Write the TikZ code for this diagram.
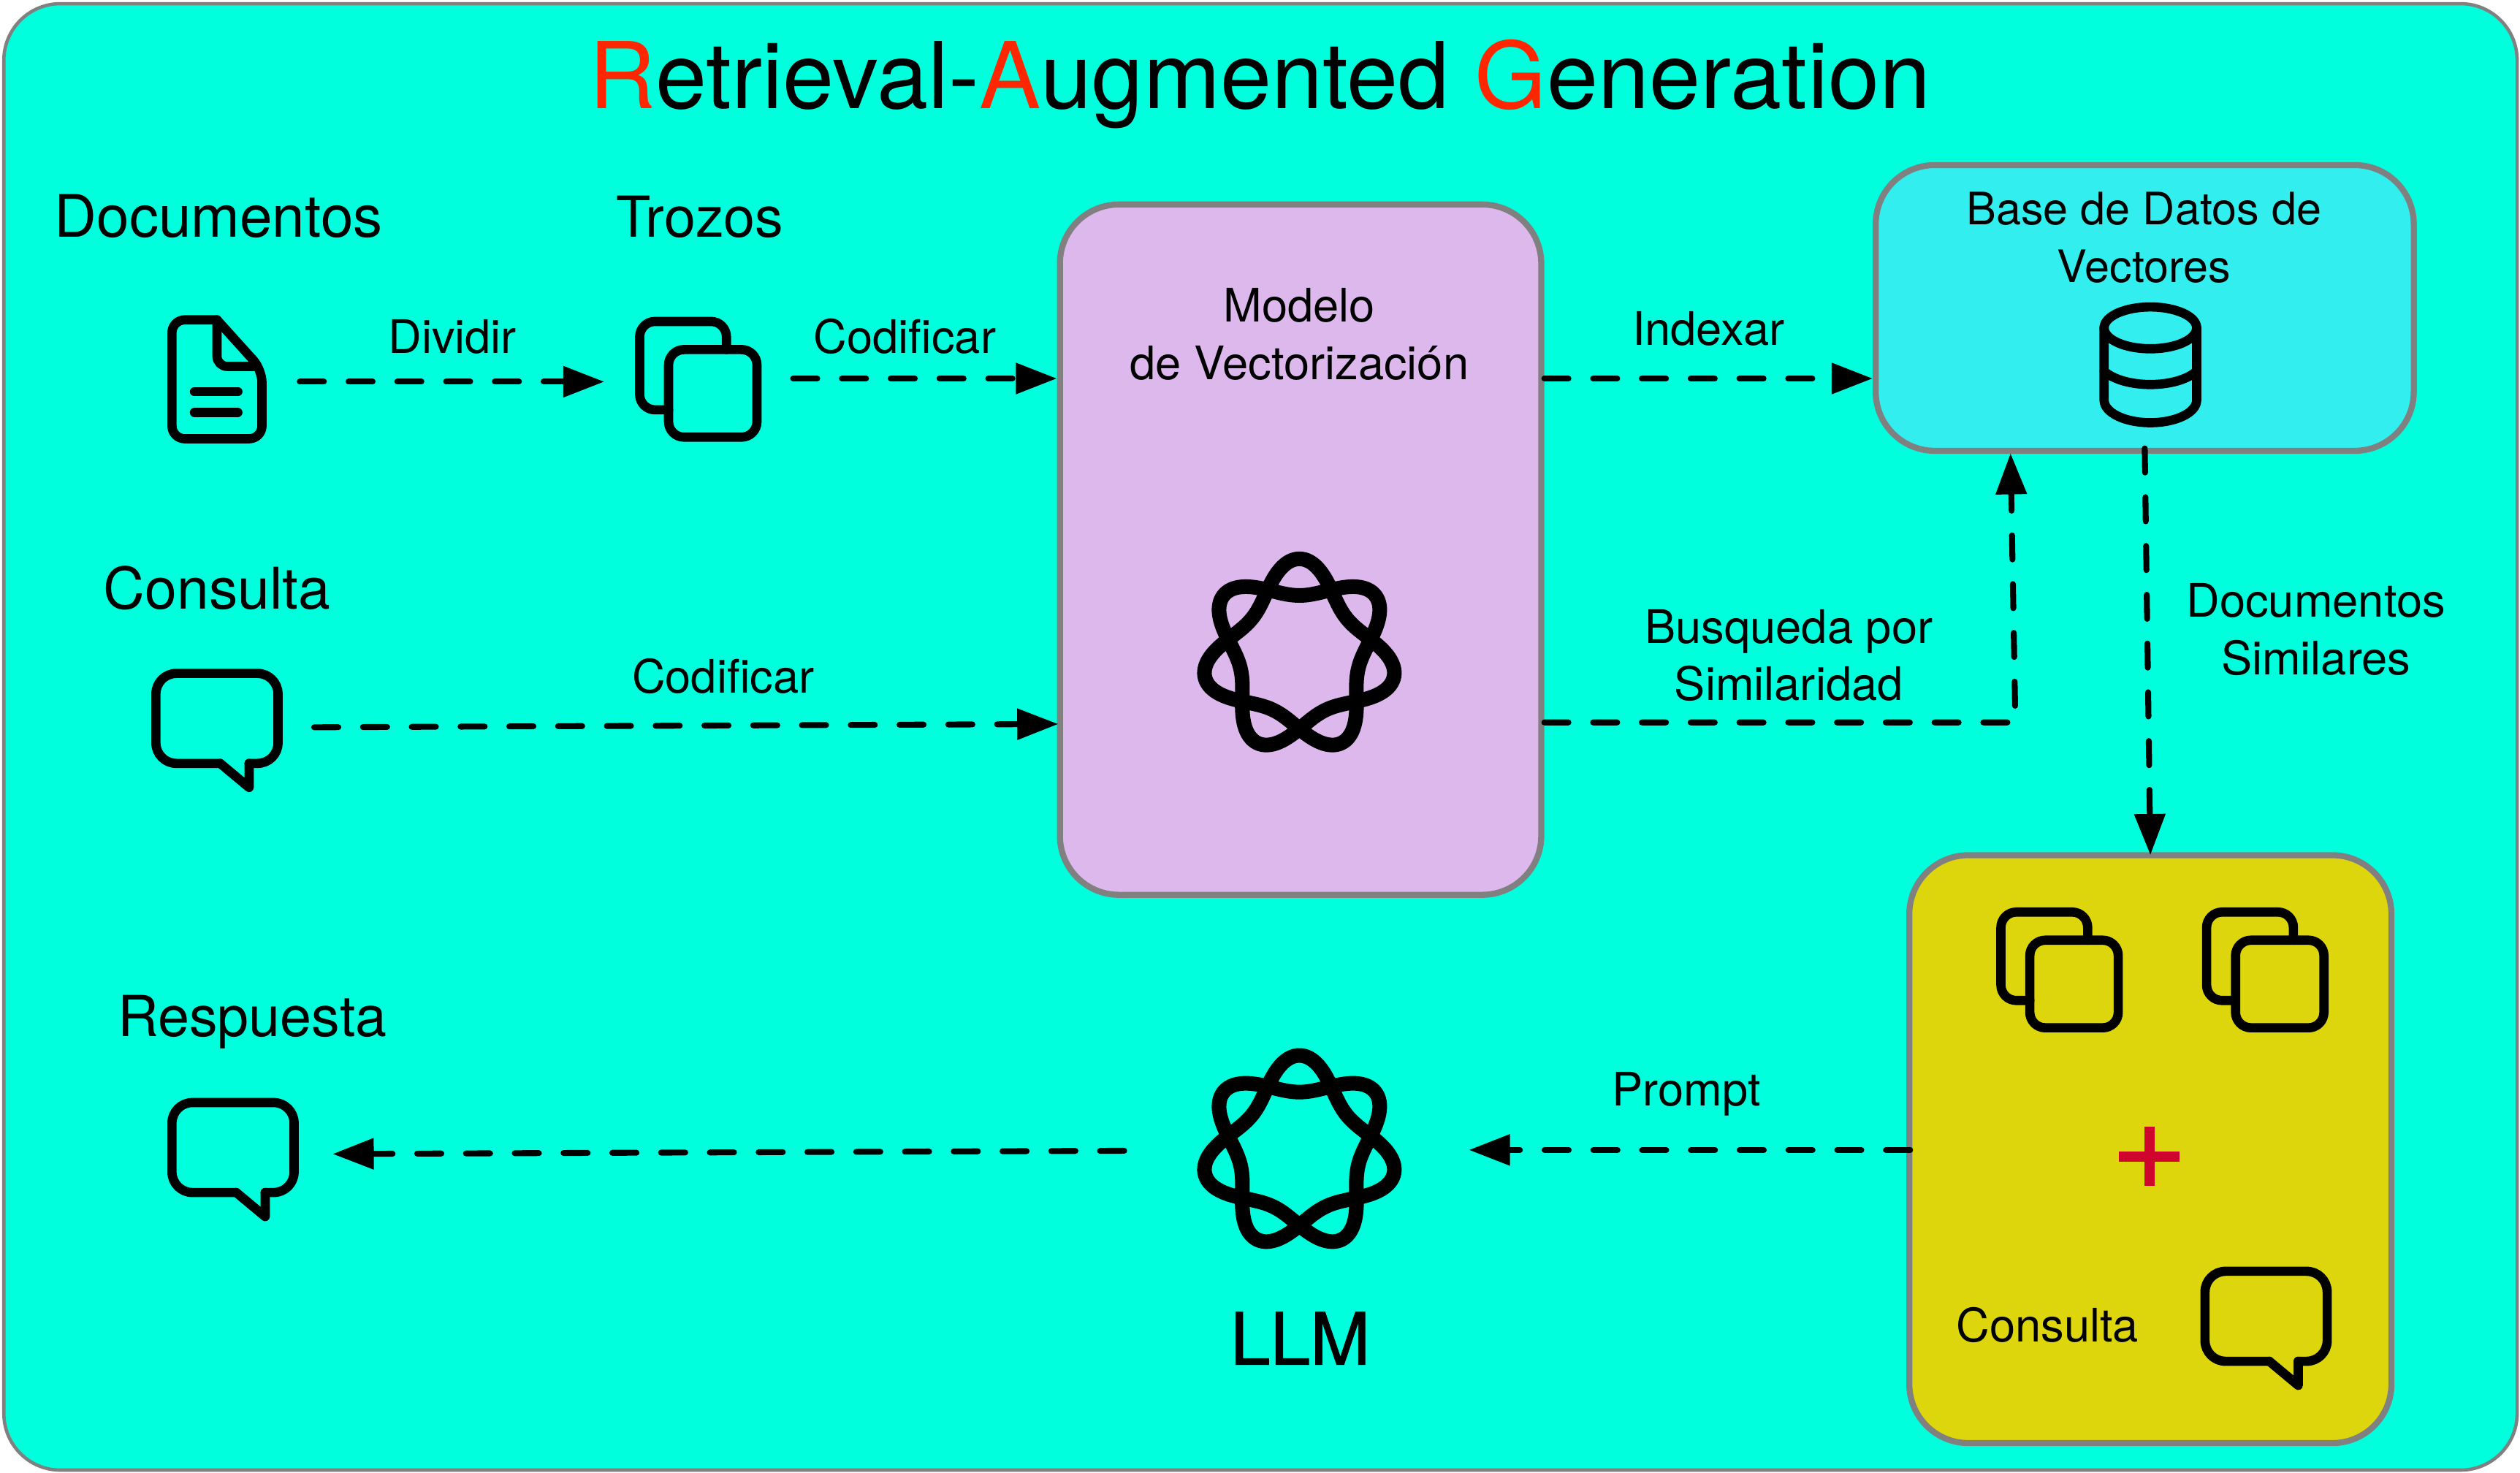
\documentclass[tikz,border=0pt]{standalone}
\usepackage{fontspec}
\setmainfont{TeX Gyre Heros}
\newfontfamily\llmfont{TeX Gyre Heros}[FakeBold=1.2]
\usetikzlibrary{arrows.meta}
\definecolor{bgcol}{RGB}{0,255,220}
\definecolor{modelcol}{RGB}{221,184,236}
\definecolor{vectorcol}{RGB}{51,238,238}
\definecolor{promptcol}{RGB}{222,214,12}
\definecolor{bordercol}{RGB}{128,128,128}
\definecolor{titlered}{RGB}{255,38,0}
\definecolor{pluscol}{RGB}{208,5,45}
\tikzset{
  box/.style={draw=bordercol, line width=2.36pt, rounded corners=23pt, inner sep=0pt},
  flow/.style={line width=2.3pt, line cap=round, dash pattern=on 9.4pt off 9.6pt, -{Triangle[length=16pt,width=11.7pt]}},
  glyph/.style={line width=3.6pt, line join=round, line cap=round},
  biglabel/.style={anchor=base, font=\fontsize{22}{26}\selectfont},
  smalllabel/.style={anchor=base, font=\fontsize{18}{22.4}\selectfont},
  twolabel/.style={align=center, font=\fontsize{18}{22.4}\selectfont},
  docicon/.pic={
    \draw[glyph, rounded corners=5pt] (28,0) -- (0,0) -- (0,74) -- (56,74) -- (56,31) -- (28,0);
    \draw[glyph, rounded corners=4pt] (28,0) -- (28,29) -- (53,29);
    \draw[glyph] (14,44.7) -- (41,44.7);
    \draw[glyph] (14,57.6) -- (41,57.6);
  },
  copyicon/.pic={
    \draw[glyph, rounded corners=6pt] (54,17.5) -- (54,0) -- (0,0) -- (0,55) -- (18,55);
    \draw[glyph, rounded corners=6pt] (18,17.5) rectangle (73,72);
  },
  bubbleicon/.pic={
    \draw[glyph, rounded corners=8pt] (40,56) -- (0,56) -- (0,0) -- (76,0) -- (76,56) -- (58,56);
    \draw[glyph] (58,56) -- (58,71) -- (40,56);
  },
  dbicon/.pic={
    \draw[glyph] (0,0) ellipse [x radius=28.8, y radius=13];
    \draw[glyph] (-28.8,0) -- (-28.8,45) .. controls (-28.8,52.7) and (-15.9,59) .. (0,59) .. controls (15.9,59) and (28.8,52.7) .. (28.8,45) -- (28.8,0);
    \draw[glyph] (-28.8,27) .. controls (-16,38) and (16,38) .. (28.8,27);
  },
  knoticon/.pic={
    \draw[line width=5.7pt, line join=round] plot[domain=0:360, samples=361, variable=\s]
      ({-48.9*sin(2*\s)+7.9*sin(5*\s)-3.5*sin(9*\s)}, {-48.9*cos(2*\s)-7.9*cos(5*\s)-3.5*cos(9*\s)}) -- cycle;
  },
}
\begin{document}
\begin{tikzpicture}[x=0.021996cm, y=-0.021996cm]
\useasboundingbox (0,0) rectangle (1568,916.5);
% background
\node[box, fill=bgcol, line width=1.3pt, rounded corners=22pt, minimum width=979pt, minimum height=571.2pt] (frame) at (784.3,458.5) {};
\node[anchor=base, font=\fontsize{35.9}{40}\selectfont] (title) at (784,67.4) {{\color{titlered}R}etrieval-{\color{titlered}A}ugmented {\color{titlered}G}eneration};
% boxes
\node[box, fill=modelcol, minimum width=187.5pt, minimum height=268.9pt] (model) at (809.25,342) {};
\node[box, fill=vectorcol, minimum width=209.6pt, minimum height=111.3pt] (vector) at (1334.5,191.6) {};
\node[box, fill=promptcol, minimum width=187.8pt, minimum height=229pt] (prompt) at (1338,715) {};
% icons
\pic at (107,199) {docicon};
\pic at (398,200) {copyicon};
\pic at (97,419) {bubbleicon};
\pic at (808.5,408) {knoticon};
\pic at (1338,204) {dbicon};
\pic at (1245,567.5) {copyicon};
\pic at (1373,567.5) {copyicon};
\pic at (1372,791) {bubbleicon};
\pic at (808.5,717) {knoticon};
\pic at (107,686) {bubbleicon};
\draw[pluscol, line width=4pt] (1318.6,719.5) -- (1356,719.5);
\draw[pluscol, line width=4pt] (1337.5,701) -- (1337.5,738);
% labels
\node[biglabel, font=\fontsize{22.8}{26}\selectfont] (doclabel) at (136,147.5) {Documentos};
\node[biglabel] (chunklabel) at (435.5,147.5) {Trozos};
\node[biglabel, font=\fontsize{22.4}{26}\selectfont] (querylabel) at (135,379) {Consulta};
\node[biglabel] (answerlabel) at (157,645) {Respuesta};
\node[smalllabel] (splitlabel) at (281.5,220) {Dividir};
\node[smalllabel] (codelabel) at (563,220) {Codificar};
\node[smalllabel] (codelabelb) at (450,431) {Codificar};
\node[smalllabel] (indexlabel) at (1063,215) {Indexar};
\node[smalllabel] (promptlabel) at (1049.5,688) {Prompt};
\node[smalllabel] (querylabelb) at (1274,835) {Consulta};
\node[twolabel] (modellabel) at (808.5,207.8) {Modelo\\de Vectorización};
\node[twolabel, font=\fontsize{17.4}{22.4}\selectfont] (vectorlabel) at (1334,147.8) {Base de Datos de\\Vectores};
\node[twolabel] (searchlabel) at (1113,407.8) {Busqueda por\\Similaridad};
\node[twolabel] (similarlabel) at (1441,391.8) {Documentos\\Similares};
\node[anchor=base, font=\fontsize{28}{30}\selectfont\llmfont] (llmlabel) at (809,849) {LLM};
% free ends
\coordinate (docout) at (186.5,237.5);
\coordinate (chunkin) at (376,237.5);
\coordinate (chunkout) at (493.5,235.5);
\coordinate (queryout) at (195.5,452.5);
\coordinate (queryin) at (658.5,450.5);
\coordinate (searchbend) at (1254,449.5);
\coordinate (vectorup) at (1251,282);
\coordinate (vectorout) at (1334.5,279);
\coordinate (promptin) at (1338,532);
\coordinate (promptout) at (1188.5,715.5);
\coordinate (llmin) at (914,715.5);
\coordinate (llmout) at (699.5,716);
\coordinate (answerin) at (207,718);
% connectors
\draw[flow] (docout) -- (chunkin);
\draw[flow] (chunkout) -- (chunkout -| model.west);
\draw[flow] (queryout) -- (queryin);
\draw[flow] (model.east |- chunkout) -- (chunkout -| vector.west);
\draw[flow] (model.east |- searchbend) -- (searchbend) -- (vectorup);
\draw[flow] (vectorout) -- (promptin);
\draw[flow] (promptout) -- (llmin);
\draw[flow] (llmout) -- (answerin);
\end{tikzpicture}
\end{document}
